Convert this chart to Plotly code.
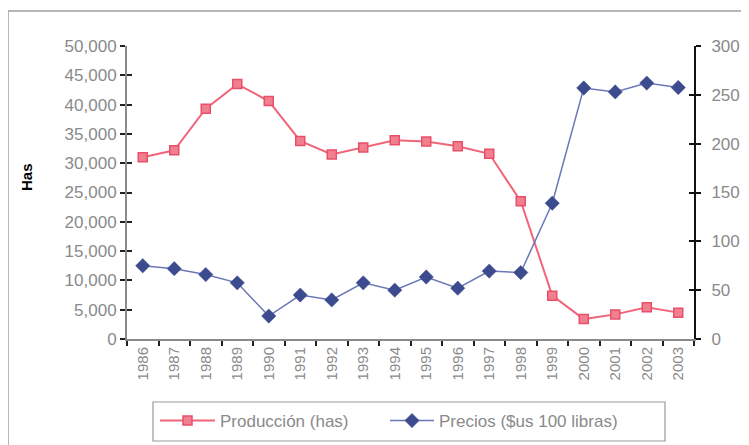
import plotly.graph_objects as go

years = ["1986", "1987", "1988", "1989", "1990", "1991", "1992", "1993", "1994",
         "1995", "1996", "1997", "1998", "1999", "2000", "2001", "2002", "2003"]
produccion = [31000, 32200, 39300, 43500, 40600, 33800, 31500, 32700, 33900,
              33700, 32900, 31600, 23500, 7400, 3400, 4200, 5400, 4500]
precios = [75, 72, 66, 57.5, 23.5, 45, 40, 57.5, 50,
           63.5, 52, 69.5, 68, 139, 257, 253, 262, 257.5]

left_ticks = list(range(0, 50001, 5000))
left_labels = [f"{v:,}" for v in left_ticks]
right_ticks = list(range(0, 301, 50))

W, H = 749, 445
OFF = 8  # page body margin
L, R, T, B = 127 - OFF, 694 - OFF, 46 - OFF, 339 - OFF
pw, ph = R - L, B - T

def px(x):
    return (x - OFF - L) / pw

def py(y):
    return (B - (y - OFF)) / ph

FONT = "Liberation Sans, Arial, sans-serif"
TICKC = "#8a8a8a"

fig = go.Figure()
fig.add_trace(go.Scatter(
    x=years, y=produccion, name="Producción (has)", mode="lines+markers",
    line=dict(color="#f0657a", width=2),
    marker=dict(symbol="square", size=9, color="#f27f90",
                line=dict(color="#e8506a", width=1.5)),
    yaxis="y", legend="legend"))
fig.add_trace(go.Scatter(
    x=years, y=precios, name="Precios ($us 100 libras)", mode="lines+markers",
    line=dict(color="#6a78b8", width=1.5),
    marker=dict(symbol="diamond", size=11, color="#3c4a8e",
                line=dict(color="#3c4a8e", width=0.5)),
    yaxis="y2", legend="legend2"))

leg_common = dict(orientation="h", yanchor="top", xanchor="left",
                  bgcolor="rgba(0,0,0,0)", borderwidth=0,
                  font=dict(family=FONT, size=17, color="#8a8a8a"))

fig.update_layout(
    width=W, height=H,
    margin=dict(l=L, r=W - R, t=T, b=H - B, autoexpand=False),
    paper_bgcolor="white", plot_bgcolor="white",
    font=dict(family=FONT, size=15, color=TICKC),
    showlegend=True,
    legend=dict(x=px(155), y=py(403), itemwidth=55, **leg_common),
    legend2=dict(x=px(385), y=py(403), itemwidth=44, **leg_common),
    xaxis=dict(type="category", range=[-0.5, 17.5], tickangle=-90,
               tickson="boundaries", ticks="outside", ticklen=5, tickwidth=2,
               tickcolor="#222222", showline=True, linecolor="#8a8a8a", linewidth=2,
               showgrid=False, zeroline=False,
               tickfont=dict(family=FONT, size=15, color=TICKC)),
    yaxis=dict(range=[0, 50000], tickvals=left_ticks, ticktext=left_labels,
               ticks="outside", ticklen=5, tickwidth=2, tickcolor="#222222",
               showline=True, linecolor="#8a8a8a", linewidth=2,
               showgrid=False, zeroline=False,
               tickfont=dict(family=FONT, size=17, color=TICKC)),
    yaxis2=dict(range=[0, 300], tickvals=right_ticks, overlaying="y", side="right",
                ticks="outside", ticklen=5, tickwidth=2, tickcolor="#111111",
                showline=True, linecolor="#111111", linewidth=2,
                showgrid=False, zeroline=False, ticklabelstandoff=7,
                tickfont=dict(family=FONT, size=17, color=TICKC)),
    yaxis3=dict(range=[0, 50000], tickvals=left_ticks, overlaying="y", side="left",
                ticks="inside", ticklen=5, tickwidth=2, tickcolor="#222222",
                showticklabels=False, showline=False, showgrid=False, zeroline=False),
    yaxis4=dict(range=[0, 300], tickvals=right_ticks, overlaying="y", side="right",
                ticks="inside", ticklen=5, tickwidth=2, tickcolor="#111111",
                showticklabels=False, showline=False, showgrid=False, zeroline=False),
)

fig.add_trace(go.Scatter(x=[years[0]], y=[0], yaxis="y3", mode="markers",
                         marker=dict(opacity=0), showlegend=False, hoverinfo="skip"))
fig.add_trace(go.Scatter(x=[years[0]], y=[0], yaxis="y4", mode="markers",
                         marker=dict(opacity=0), showlegend=False, hoverinfo="skip"))

fig.add_annotation(text="<b>Has</b>", x=px(26), y=py(177), xref="paper", yref="paper",
                   xanchor="center", yanchor="middle",
                   textangle=-90, showarrow=False,
                   font=dict(family=FONT, size=15, color="#000000"))

# outer chart frame
fig.add_shape(type="rect", xref="paper", yref="paper",
              x0=px(8), y0=py(470), x1=px(770), y1=py(11),
              line=dict(color="#a0a0a0", width=1.5), layer="below")
# legend frame
fig.add_shape(type="rect", xref="paper", yref="paper",
              x0=px(153), y0=py(441), x1=px(665), y1=py(402),
              line=dict(color="#999999", width=1.2), layer="below")

fig.write_html("out.html")
